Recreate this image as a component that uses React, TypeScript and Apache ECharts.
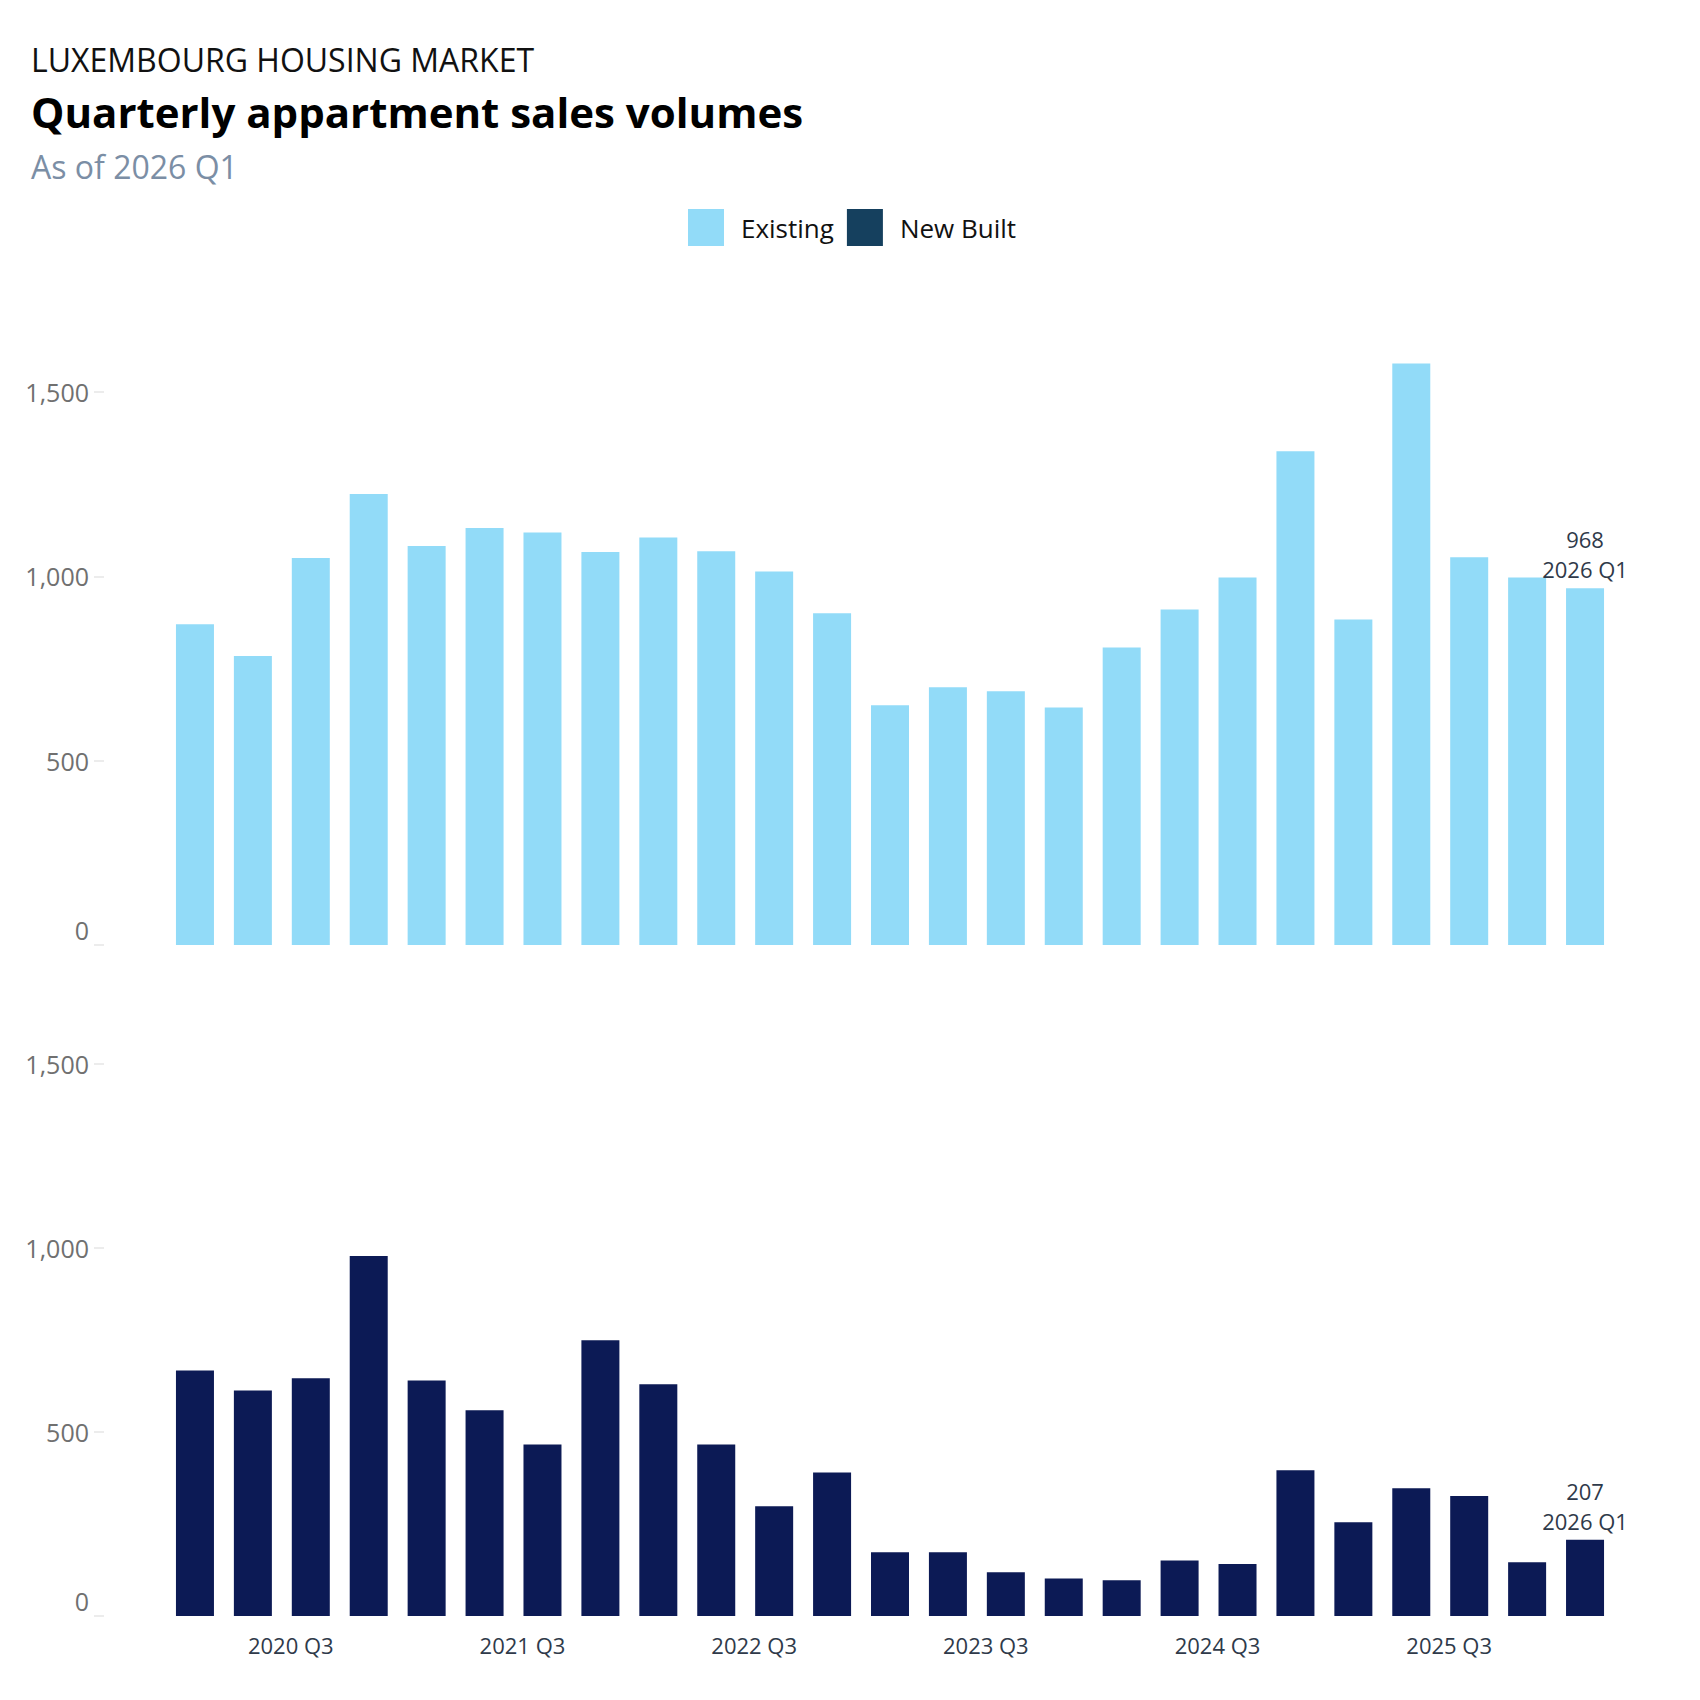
import React, { useEffect, useRef } from "react";
import * as echarts from "echarts";

const categories = [
  "2020 Q1", "2020 Q2", "2020 Q3", "2020 Q4",
  "2021 Q1", "2021 Q2", "2021 Q3", "2021 Q4",
  "2022 Q1", "2022 Q2", "2022 Q3", "2022 Q4",
  "2023 Q1", "2023 Q2", "2023 Q3", "2023 Q4",
  "2024 Q1", "2024 Q2", "2024 Q3", "2024 Q4",
  "2025 Q1", "2025 Q2", "2025 Q3", "2025 Q4",
  "2026 Q1",
];

const existing = [
  870, 784, 1050, 1223, 1082, 1131, 1119, 1066, 1105, 1068, 1013, 900,
  650, 699, 688, 644, 807, 910, 997, 1339, 883, 1577, 1052, 997, 968,
];

const newBuilt = [
  667, 613, 646, 978, 640, 559, 466, 749, 630, 466, 298, 390,
  173, 173, 119, 102, 97, 151, 141, 396, 255, 347, 326, 146, 207,
];

const yTicks = [0, 500, 1000, 1500];

const FONT = "'Open Sans', 'Noto Sans', sans-serif";
const COLOR_EXISTING = "#92dbf8";
const COLOR_NEW = "#0c1a55";
const COLOR_NEW_LEGEND = "#15405e";

function buildOption() {
  const last = categories.length - 1;
  const withLastLabel = (arr: number[]) =>
    arr.map((v, i) => (i === last ? { value: v, label: { show: true } } : v));

  const yAxisCommon = (gridIndex: number) => ({
    type: "value",
    gridIndex,
    min: yTicks[0],
    max: yTicks[yTicks.length - 1],
    interval: yTicks[1] - yTicks[0],
    offset: 62,
    axisLine: { show: false },
    axisTick: { show: true, length: 10, lineStyle: { color: "#ececec", width: 2 } },
    splitLine: { show: false },
    axisLabel: {
      margin: 15,
      fontFamily: FONT,
      fontSize: 25,
      color: "#707070",
      formatter: (v: number) =>
        v === 0 ? "{z|0}" : v.toLocaleString("en-US"),
      rich: {
        z: {
          fontFamily: FONT,
          fontSize: 25,
          color: "#707070",
          padding: [0, 0, 30, 0],
        },
      },
    },
  });

  const seriesLabel = {
    show: false,
    position: "top",
    distance: 4,
    fontFamily: FONT,
    fontSize: 22,
    lineHeight: 30,
    color: "#2f3a4a",
    formatter: (p: any) => `${p.value}\n${p.name}`,
  };

  return {
    animation: false,
    backgroundColor: "#ffffff",
    graphic: [
      {
        type: "text",
        x: 31,
        y: 59,
        style: {
          text: "LUXEMBOURG HOUSING MARKET",
          font: `400 32px ${FONT}`,
          fill: "#111111",
          verticalAlign: "middle",
        },
      },
      {
        type: "text",
        x: 31,
        y: 111,
        style: {
          text: "Quarterly appartment sales volumes",
          font: `700 42px ${FONT}`,
          fill: "#000000",
          verticalAlign: "middle",
        },
      },
      {
        type: "text",
        x: 31,
        y: 166,
        style: {
          text: "As of 2026 Q1",
          font: `400 32px ${FONT}`,
          fill: "#7b8ea5",
          verticalAlign: "middle",
        },
      },
    ],
    legend: {
      left: 683,
      top: 204,
      itemWidth: 36,
      itemHeight: 37,
      itemGap: 13,
      icon: "rect",
      textStyle: {
        fontFamily: FONT,
        fontSize: 26,
        color: "#111111",
        padding: [0, 0, 0, 12],
      },
      data: [
        { name: "Existing", itemStyle: { color: COLOR_EXISTING } },
        { name: "New Built", itemStyle: { color: COLOR_NEW_LEGEND } },
      ],
    },
    grid: [
      { left: 166, right: 86, top: 392, height: 553 },
      { left: 166, right: 86, top: 1064, height: 552 },
    ],
    xAxis: [
      {
        type: "category",
        gridIndex: 0,
        data: categories,
        axisLine: { show: false },
        axisTick: { show: false },
        axisLabel: { show: false },
      },
      {
        type: "category",
        gridIndex: 1,
        data: categories,
        axisLine: { show: false },
        axisTick: { show: false },
        axisLabel: {
          show: true,
          interval: (_i: number, v: string) => v.endsWith("Q3"),
          margin: 18,
          fontFamily: FONT,
          fontSize: 22,
          color: "#2f3a4a",
          padding: [0, 40, 0, 0],
        },
      },
    ],
    yAxis: [yAxisCommon(0), yAxisCommon(1)],
    series: [
      {
        name: "Existing",
        type: "bar",
        xAxisIndex: 0,
        yAxisIndex: 0,
        barWidth: 38,
        clip: false,
        itemStyle: { color: COLOR_EXISTING },
        label: seriesLabel,
        data: withLastLabel(existing),
      },
      {
        name: "New Built",
        type: "bar",
        xAxisIndex: 1,
        yAxisIndex: 1,
        barWidth: 38,
        clip: false,
        itemStyle: { color: COLOR_NEW },
        label: seriesLabel,
        data: withLastLabel(newBuilt),
      },
    ],
  };
}

export default function App() {
  const ref = useRef<HTMLDivElement>(null);
  useEffect(() => {
    document.body.style.margin = "0";
    if (!ref.current) return;
    const chart = echarts.init(ref.current, null, { renderer: "svg" });
    chart.setOption(buildOption() as any);
    return () => {
      chart.dispose();
    };
  }, []);
  return <div ref={ref} style={{ width: 1700, height: 1700 }} />;
}
